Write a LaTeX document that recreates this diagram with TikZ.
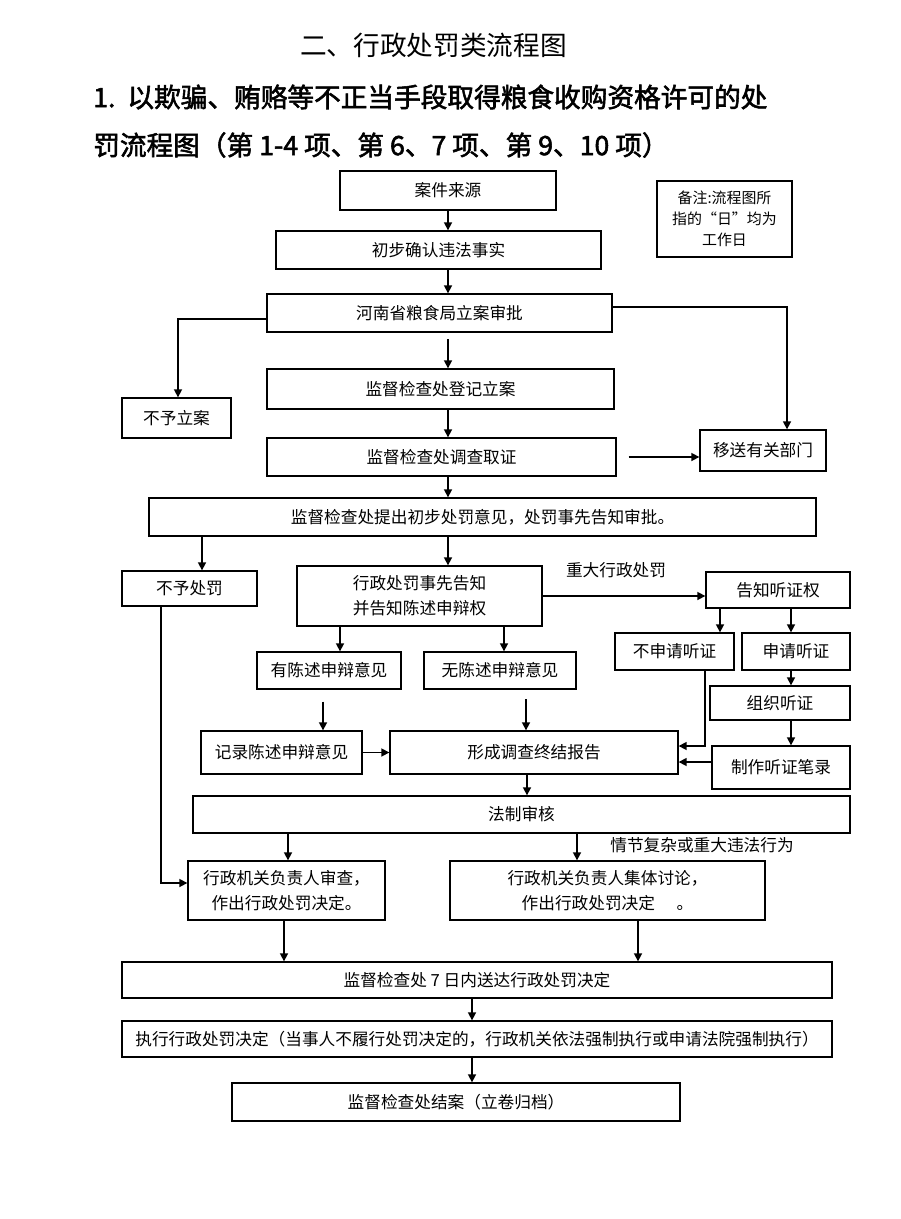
\documentclass[tikz,border=0pt]{standalone}
\usepackage{fontspec}
\newfontfamily\cjk{Noto Sans CJK SC}
\newfontfamily\cjkb[FakeBold=2]{Noto Sans CJK SC}
\usetikzlibrary{arrows.meta,fit}
\newcommand\mkbox[6]{%
  \coordinate (#1-nw) at (#2,#3);
  \coordinate (#1-se) at (#4,#5);
  \node[box, fit=(#1-nw)(#1-se)] (#1) {};
  \node[boxtext] (#1-t) at (#1.center) {#6};}
\begin{document}
\begin{tikzpicture}[x=0.75pt,y=-0.75pt,
  font=\cjk\fontsize{12.5}{18.8}\selectfont,
  box/.style={draw, line width=1pt, inner sep=0pt},
  boxtext/.style={inner sep=0pt, align=center},
  arr/.style={-{Triangle[length=6pt,width=6pt]}, line width=1.2pt},
  lbl/.style={inner sep=0pt},
  ttl/.style={inner sep=0pt, anchor=west, font=\cjk\fontsize{20}{24}\selectfont},
  ttlb/.style={inner sep=0pt, anchor=west, font=\cjkb\fontsize{20}{24}\selectfont}]
\useasboundingbox (0,0) rectangle (900,1219);
\fill[white] (0,0) rectangle (900,1219);

% titles
\node[ttl] (t0) at (300,45) {二、行政处罚类流程图};
\node[ttlb] (t1) at (93,97) {1.\ \ 以欺骗、贿赂等不正当手段取得粮食收购资格许可的处};
\node[ttlb] (t2) at (93,145) {罚流程图（第 1-4 项、第 6、7 项、第 9、10 项）};

% boxes
\mkbox{src}{340}{171}{556}{210}{案件来源}
\mkbox{chk}{276}{231}{601}{269}{初步确认违法事实}
\mkbox{appr}{267}{294}{612}{332}{河南省粮食局立案审批}
\mkbox{reg}{267}{369}{614}{409}{监督检查处登记立案}
\mkbox{nocase}{122}{398}{231}{438}{不予立案}
\mkbox{inv}{267}{438}{616}{476}{监督检查处调查取证}
\mkbox{xfer}{700}{430}{826}{471}{移送有关部门}
\coordinate (note-nw) at (657,181);
\coordinate (note-se) at (792,257);
\node[box, fit=(note-nw)(note-se)] (note) {};
\node[boxtext, font=\cjk\fontsize{11.2}{15.8}\selectfont] (note-t) at (note.center) {备注:流程图所\\指的“日”均为\\工作日};
\mkbox{prop}{149}{498}{816}{536}{监督检查处提出初步处罚意见，处罚事先告知审批。}
\mkbox{nopun}{122}{571}{257}{606}{不予处罚}
\mkbox{notice}{297}{566}{542}{626}{行政处罚事先告知\\并告知陈述申辩权}
\mkbox{hear}{706}{572}{850}{608}{告知听证权}
\mkbox{nohear}{615}{633}{734}{670}{不申请听证}
\mkbox{yeshear}{742}{633}{850}{670}{申请听证}
\mkbox{stmt}{257}{652}{401}{689}{有陈述申辩意见}
\mkbox{nostmt}{424}{652}{576}{689}{无陈述申辩意见}
\mkbox{org}{710}{686}{850}{720}{组织听证}
\mkbox{rec}{201}{731}{362}{774}{记录陈述申辩意见}
\mkbox{rep}{390}{731}{678}{774}{形成调查终结报告}
\mkbox{minutes}{712}{746}{850}{789}{制作听证笔录}
\mkbox{legal}{193}{796}{850}{833}{法制审核}
\mkbox{head}{188}{861}{385}{920}{行政机关负责人审查，\\作出行政处罚决定。}
\mkbox{group}{450}{861}{765}{920}{行政机关负责人集体讨论，\\作出行政处罚决定\hspace{1.3em}。}
\mkbox{serve}{122}{962}{832}{998}{监督检查处 7 日内送达行政处罚决定}
\mkbox{exec}{122}{1021}{832}{1057}{执行行政处罚决定（当事人不履行处罚决定的，行政机关依法强制执行或申请法院强制执行）}
\mkbox{close}{232}{1083}{680}{1121}{监督检查处结案（立卷归档）}

% labels
\node[lbl] (lblmajor) at (616,570) {重大行政处罚};
\node[lbl] (lblcomplex) at (702,845) {情节复杂或重大违法行为};

% helper coordinates
\coordinate (k1) at (178,319);
\coordinate (k2) at (787,307);
\coordinate (k3) at (202,0);
\coordinate (k4) at (720,0);
\coordinate (k5) at (791,0);
\coordinate (k6) at (705,746);
\coordinate (k7) at (0,762);
\coordinate (k8) at (527,0);
\coordinate (k9) at (161,883);
\coordinate (cst) at (340,0);
\coordinate (cnst) at (504,0);
\coordinate (crec) at (323,0);
\coordinate (crep) at (526,0);
\coordinate (chd) at (288,0);
\coordinate (cgr) at (577,0);
\coordinate (chd2) at (284,0);
\coordinate (cgr2) at (638,0);
\coordinate (cex) at (472,0);

% main trunk
\draw[arr] (src.south) -- (chk.north -| src.south);
\draw[arr] (chk.south -| src.south) -- (appr.north -| src.south);
\draw[arr, shorten <=5pt] (appr.south -| src.south) -- (reg.north -| src.south);
\draw[arr] (reg.south -| src.south) -- (inv.north -| src.south);
\draw[arr] (inv.south -| src.south) -- (prop.north -| src.south);
\draw[arr] (prop.south -| src.south) -- (notice.north -| src.south);

% branches
\draw[arr] (appr.west |- k1) -- (k1) -- (nocase.north -| k1);
\draw[arr] (appr.east |- k2) -- (k2) -- (xfer.north -| k2);
\draw[arr, shorten <=9pt] (inv.east) -- (xfer.west |- inv.east);
\draw[arr] (prop.south -| k3) -- (nopun.north -| k3);
\draw[arr] (notice.east) -- (hear.west |- notice.east);
\draw[arr] (hear.south -| k4) -- (nohear.north -| k4);
\draw[arr] (hear.south -| k5) -- (yeshear.north -| k5);
\draw[arr] (yeshear.south -| k5) -- (org.north -| k5);
\draw[arr] (org.south -| k5) -- (minutes.north -| k5);
\draw[arr] (notice.south -| cst) -- (stmt.north -| cst);
\draw[arr] (notice.south -| cnst) -- (nostmt.north -| cnst);
\draw[arr, shorten <=9pt] (stmt.south -| crec) -- (rec.north -| crec);
\draw[arr, shorten <=7pt] (nostmt.south -| crep) -- (rep.north -| crep);
\draw[arr] (rec.east) -- (rep.west |- rec.east);
\draw[arr] (nohear.south -| k6) -- (k6) -- (rep.east |- k6);
\draw[arr] (minutes.west |- k7) -- (rep.east |- k7);
\draw[arr] (rep.south -| k8) -- (legal.north -| k8);
\draw[arr] (nopun.south -| k9) -- (k9) -- (head.west |- k9);
\draw[arr] (legal.south -| chd) -- (head.north -| chd);
\draw[arr] (legal.south -| cgr) -- (group.north -| cgr);
\draw[arr] (head.south -| chd2) -- (serve.north -| chd2);
\draw[arr] (group.south -| cgr2) -- (serve.north -| cgr2);
\draw[arr] (serve.south -| cex) -- (exec.north -| cex);
\draw[arr] (exec.south -| cex) -- (close.north -| cex);
\end{tikzpicture}
\end{document}
